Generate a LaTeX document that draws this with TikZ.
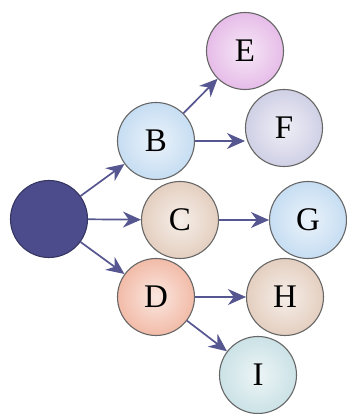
\documentclass[tikz,border=0pt]{standalone}
\usepackage{fontspec}
\setmainfont{Liberation Serif}
\usepackage{tikz}
\usetikzlibrary{graphs}
\usetikzlibrary{arrows.meta}
\definecolor{rootc}{HTML}{4C4C8C}
\definecolor{bluec}{HTML}{C6DDF2}
\definecolor{pinkc}{HTML}{E6BCE8}
\definecolor{lavc}{HTML}{D0D0E6}
\definecolor{beigec}{HTML}{E4CFC0}
\definecolor{salmc}{HTML}{F2BBA8}
\definecolor{tealc}{HTML}{CBE2E6}
\definecolor{arrc}{HTML}{565690}
\tikzset{
  vert/.style= {draw=gray!80!black, circle, minimum size=77, inner sep=0,
    line width=1.1, font=\fontsize{33}{35}\selectfont},
  tint/.style= {inner color=#1!35!white, outer color=#1},
  root/.style= {draw=rootc!70!black, fill=rootc},
  link/.style= {arrc, line width=1.7},
}

\begin{document}
\begin{tikzpicture}[x=1pt, y=1pt, >={Stealth[length=18pt, width=16pt]}]
  \useasboundingbox (0,0) rectangle (346,414);
  \node [vert, root] (r) at (49,195) {} ;
  \node [vert, tint=bluec] (b) at (156,273) {B} ;
  \node [vert, tint=pinkc] (e) at (245,363) {E} ;
  \node [vert, tint=lavc] (f) at (284,286) {F} ;
  \node [vert, tint=beigec] (c) at (180,194) {C} ;
  \node [vert, tint=bluec] (g) at (308,194) {G} ;
  \node [vert, tint=salmc] (d) at (156,117) {D} ;
  \node [vert, tint=beigec] (h) at (285,117) {H} ;
  \node [vert, tint=tealc] (i) at (258,39) {I} ;

  \graph [edges={link}] {
    (r) -> (b) -> (e) ;
    (r) -> (c) -> (g) ;
    (r) -> (d) -> (h) ;
    (d) -> (i) ;
  } ;
  \draw [->, link] (b.east) -- (f.west |- b.east) ;
\end{tikzpicture}
\end{document}
